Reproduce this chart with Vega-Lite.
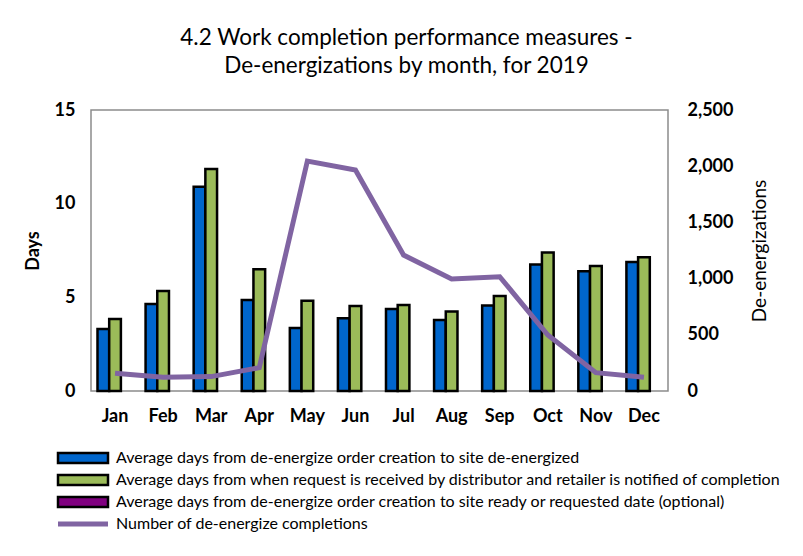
{
  "$schema": "https://vega.github.io/schema/vega-lite/v6.json",
  "autosize": {"type": "none"},
  "width": 577,
  "height": 281,
  "padding": {"left": 91, "top": 110, "right": 135, "bottom": 165},
  "background": "white",
  "title": {
    "text": ["4.2 Work completion performance measures -", "De-energizations by month, for 2019"],
    "font": "Lato",
    "fontSize": 22.5,
    "fontWeight": "normal",
    "color": "black",
    "anchor": "middle",
    "frame": "group",
    "dx": 27,
    "offset": 24,
    "lineHeight": 28
  },
  "config": {
    "view": {"stroke": "#8c8c8c", "strokeWidth": 1.5},
    "font": "Lato"
  },
  "data": {
    "values": [
      {"month": "Jan", "series": "Average days from de-energize order creation to site de-energized", "days": 3.31},
      {"month": "Jan", "series": "Average days from when request is received by distributor and retailer is notified of completion", "days": 3.84},
      {"month": "Feb", "series": "Average days from de-energize order creation to site de-energized", "days": 4.64},
      {"month": "Feb", "series": "Average days from when request is received by distributor and retailer is notified of completion", "days": 5.34},
      {"month": "Mar", "series": "Average days from de-energize order creation to site de-energized", "days": 10.9},
      {"month": "Mar", "series": "Average days from when request is received by distributor and retailer is notified of completion", "days": 11.85},
      {"month": "Apr", "series": "Average days from de-energize order creation to site de-energized", "days": 4.86},
      {"month": "Apr", "series": "Average days from when request is received by distributor and retailer is notified of completion", "days": 6.5},
      {"month": "May", "series": "Average days from de-energize order creation to site de-energized", "days": 3.36},
      {"month": "May", "series": "Average days from when request is received by distributor and retailer is notified of completion", "days": 4.82},
      {"month": "Jun", "series": "Average days from de-energize order creation to site de-energized", "days": 3.88},
      {"month": "Jun", "series": "Average days from when request is received by distributor and retailer is notified of completion", "days": 4.54},
      {"month": "Jul", "series": "Average days from de-energize order creation to site de-energized", "days": 4.38},
      {"month": "Jul", "series": "Average days from when request is received by distributor and retailer is notified of completion", "days": 4.59},
      {"month": "Aug", "series": "Average days from de-energize order creation to site de-energized", "days": 3.79},
      {"month": "Aug", "series": "Average days from when request is received by distributor and retailer is notified of completion", "days": 4.24},
      {"month": "Sep", "series": "Average days from de-energize order creation to site de-energized", "days": 4.56},
      {"month": "Sep", "series": "Average days from when request is received by distributor and retailer is notified of completion", "days": 5.07},
      {"month": "Oct", "series": "Average days from de-energize order creation to site de-energized", "days": 6.75},
      {"month": "Oct", "series": "Average days from when request is received by distributor and retailer is notified of completion", "days": 7.39},
      {"month": "Nov", "series": "Average days from de-energize order creation to site de-energized", "days": 6.39},
      {"month": "Nov", "series": "Average days from when request is received by distributor and retailer is notified of completion", "days": 6.67},
      {"month": "Dec", "series": "Average days from de-energize order creation to site de-energized", "days": 6.89},
      {"month": "Dec", "series": "Average days from when request is received by distributor and retailer is notified of completion", "days": 7.14}
    ]
  },
  "encoding": {
    "x": {
      "field": "month",
      "type": "nominal",
      "sort": ["Jan","Feb","Mar","Apr","May","Jun","Jul","Aug","Sep","Oct","Nov","Dec"],
      "scale": {"paddingInner": 0.27, "paddingOuter": 0.135},
      "axis": {
        "title": null,
        "labelAngle": 0,
        "labelFont": "Lato",
        "labelFontSize": 18,
        "labelFontWeight": "bold",
        "labelColor": "black",
        "labelPadding": 16,
        "domain": false,
        "ticks": false
      }
    }
  },
  "layer": [
    {
      "mark": {"type": "bar", "stroke": "black", "strokeWidth": 2.5},
      "encoding": {
        "xOffset": {
          "field": "series",
          "type": "nominal",
          "scale": {"domain": [
            "Average days from de-energize order creation to site de-energized",
            "Average days from when request is received by distributor and retailer is notified of completion",
            "Average days from de-energize order creation to site ready or requested date (optional)"
          ], "paddingInner": 0, "paddingOuter": 0}
        },
        "y": {
          "field": "days",
          "type": "quantitative",
          "scale": {"domain": [0, 15]},
          "axis": {
            "values": [0, 5, 10, 15],
            "title": "Days",
            "titleFont": "Lato",
            "titleFontSize": 18,
            "titleFontWeight": "bold",
            "titleColor": "black",
            "titlePadding": 12,
            "labelFont": "Lato",
            "labelFontSize": 18,
            "labelFontWeight": "bold",
            "labelColor": "black",
            "labelPadding": 16,
            "domain": false,
            "ticks": false,
            "grid": false
          }
        },
        "fill": {
          "field": "series",
          "type": "nominal",
          "scale": {
            "domain": [
              "Average days from de-energize order creation to site de-energized",
              "Average days from when request is received by distributor and retailer is notified of completion",
              "Average days from de-energize order creation to site ready or requested date (optional)"
            ],
            "range": ["#0066CC", "#9BBB59", "#800080"]
          },
          "legend": {
            "title": null,
            "orient": "none",
            "legendX": -36,
            "legendY": 340,
            "direction": "vertical",
            "columns": 1,
            "rowPadding": 2,
            "labelFont": "Lato",
            "labelFontSize": 16,
            "labelColor": "black",
            "labelOffset": 45,
            "labelLimit": 900,
            "symbolType": "M-1,-1H9V1H-1Z",
            "symbolSize": 100,
            "symbolStrokeColor": "black",
            "symbolStrokeWidth": 2.5,
            "symbolOpacity": 1
          }
        }
      }
    },
    {
      "data": {
        "values": [
          {"month": "Jan", "series": "Number of de-energize completions", "count": 157},
          {"month": "Feb", "series": "Number of de-energize completions", "count": 122},
          {"month": "Mar", "series": "Number of de-energize completions", "count": 128},
          {"month": "Apr", "series": "Number of de-energize completions", "count": 208},
          {"month": "May", "series": "Number of de-energize completions", "count": 2046},
          {"month": "Jun", "series": "Number of de-energize completions", "count": 1966},
          {"month": "Jul", "series": "Number of de-energize completions", "count": 1210},
          {"month": "Aug", "series": "Number of de-energize completions", "count": 996},
          {"month": "Sep", "series": "Number of de-energize completions", "count": 1017},
          {"month": "Oct", "series": "Number of de-energize completions", "count": 498},
          {"month": "Nov", "series": "Number of de-energize completions", "count": 163},
          {"month": "Dec", "series": "Number of de-energize completions", "count": 122}
        ]
      },
      "mark": {"type": "line", "strokeWidth": 5},
      "encoding": {
        "y": {
          "field": "count",
          "type": "quantitative",
          "scale": {"domain": [0, 2500]},
          "axis": {
            "orient": "right",
            "values": [0, 500, 1000, 1500, 2000, 2500],
            "format": ",.0f",
            "title": "De-energizations",
            "titleFont": "Lato",
            "titleFontSize": 19,
            "titleFontWeight": "normal",
            "titleColor": "black",
            "titleAngle": 270,
            "titleBaseline": "top",
            "titlePadding": 18,
            "labelFont": "Lato",
            "labelFontSize": 18,
            "labelFontWeight": "bold",
            "labelColor": "black",
            "labelPadding": 19,
            "domain": false,
            "ticks": false,
            "grid": false
          }
        },
        "stroke": {
          "field": "series",
          "type": "nominal",
          "scale": {"domain": ["Number of de-energize completions"], "range": ["#8064A2"]},
          "legend": {
            "title": null,
            "orient": "none",
            "legendX": -36,
            "legendY": 406,
            "labelFont": "Lato",
            "labelFontSize": 16,
            "labelColor": "black",
            "labelOffset": 45,
            "labelLimit": 900,
            "symbolType": "M-1,0H9",
            "symbolSize": 100,
            "symbolStrokeWidth": 5,
            "symbolFillColor": "transparent",
            "symbolOpacity": 1
          }
        }
      }
    }
  ],
  "resolve": {"scale": {"y": "independent"}}
}
